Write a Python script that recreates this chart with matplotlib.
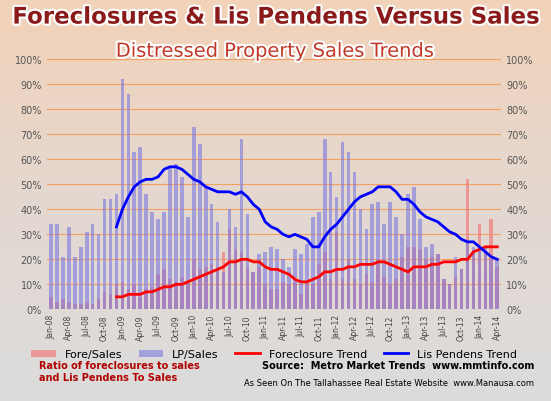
import matplotlib
matplotlib.use("Agg")
import matplotlib.pyplot as plt
import matplotlib.patheffects as pe
from matplotlib.colors import LinearSegmentedColormap
import numpy as np

months = ["Jan","Feb","Mar","Apr","May","Jun","Jul","Aug","Sep","Oct","Nov","Dec"]
labels = [f"{m}-{y:02d}" for y in range(8, 15) for m in months][:76]

lp_sales = [34,34,21,33,21,25,31,34,30,44,44,46,
            92,86,63,65,46,39,36,39,57,58,53,37,
            73,66,49,42,35,15,40,33,68,38,15,22,
            23,25,24,20,17,24,22,26,37,39,68,55,
            45,67,63,55,40,32,42,43,34,43,37,30,
            46,49,36,25,26,22,12,10,21,16,27,25,
            24,25,20,20]
fore_sales = [5,3,4,3,2,2,3,2,4,7,6,10,
              11,8,10,5,8,9,14,16,12,11,13,11,
              20,16,17,18,17,23,32,24,23,17,15,17,
              10,8,8,11,10,11,6,11,10,18,23,12,
              31,12,20,12,10,14,11,20,13,10,12,21,
              25,25,24,20,21,22,12,10,13,16,52,22,
              34,23,36,17]
lp_trend = [33,
            40,45,49,51,52,52,53,56,57,57,56,54,
            52,51,49,48,47,47,47,46,47,45,42,40,
            35,33,32,30,29,30,29,28,25,25,29,32,
            34,37,40,43,45,46,47,49,49,49,47,44,
            44,42,39,37,36,35,33,31,30,28,27,27,
            25,23,21,20]
fc_trend = [5,
            5,6,6,6,7,7,8,9,9,10,10,11,
            12,13,14,15,16,17,19,19,20,20,19,19,
            17,16,16,15,14,12,11,11,12,13,15,15,
            16,16,17,17,18,18,18,19,19,18,17,16,
            15,17,17,17,18,18,19,19,19,20,20,23,
            24,25,25,25]

fig = plt.figure(figsize=(5.51, 4.02), dpi=100)
bg = fig.add_axes([0, 0, 1, 1], zorder=-10)
grad = np.linspace(0, 1, 200)[:, None] * np.ones((1, 10))
cm = LinearSegmentedColormap.from_list("f", ["#f3d2b8", "#e4d8d0", "#dcdcdc"])
bg.imshow(grad, aspect="auto", cmap=cm, extent=[0, 1, 0, 1])
bg.axis("off")

ax = fig.add_axes([0.085, 0.228, 0.825, 0.622])
ax.patch.set_alpha(0)
x = np.arange(76)
h1 = ax.bar(x, fore_sales, width=0.62, color="#f08080", alpha=0.75, label="Fore/Sales", zorder=2)
h2 = ax.bar(x, lp_sales, width=0.62, color="#7b78e0", alpha=0.6, label="LP/Sales", zorder=2)
xt = np.arange(11, 76)
h3, = ax.plot(xt, fc_trend, color="red", lw=2, label="Foreclosure Trend", zorder=4)
h4, = ax.plot(xt, lp_trend, color="blue", lw=2, label="Lis Pendens Trend", zorder=4)
ax.set_ylim(0, 100)
ax.set_xlim(-0.7, 75.7)
yt = np.arange(0, 101, 10)
ax.set_yticks(yt)
ax.set_yticklabels([f"{v}%" for v in yt], fontsize=7, color="#555")
ax.yaxis.grid(True, color="#f5a060", lw=0.8, zorder=0)
ax.set_axisbelow(True)
ax.set_xticks(x[::3])
ax.set_xticklabels(labels[::3], rotation=90, fontsize=5.5, color="#444")
ax.tick_params(length=0)
for s in ax.spines.values():
    s.set_visible(False)
ax2 = ax.twinx()
ax2.set_ylim(0, 100)
ax2.set_yticks(yt)
ax2.set_yticklabels([f"{v}%" for v in yt], fontsize=7, color="#555")
ax2.tick_params(length=0)
for s in ax2.spines.values():
    s.set_visible(False)

fig.text(0.5, 0.955, "Foreclosures & Lis Pendens Versus Sales", ha="center", va="center",
         fontsize=16.5, fontweight="bold", color="#8b1a1a",
         path_effects=[pe.withStroke(linewidth=3, foreground="white")])
fig.text(0.5, 0.87, "Distressed Property Sales Trends", ha="center", va="center",
         fontsize=14, color="#c0392b",
         path_effects=[pe.withStroke(linewidth=3, foreground="white")])

ax.legend([h1, h2, h3, h4], ["Fore/Sales", "LP/Sales", "Foreclosure Trend", "Lis Pendens Trend"],
          loc="upper center", bbox_to_anchor=(0.5, -0.12), ncol=4, frameon=False,
          fontsize=8, handlelength=2.2, columnspacing=1.5)

fig.text(0.07, 0.075, "Ratio of foreclosures to sales\nand Lis Pendens To Sales", fontsize=7,
         color="#b00000", fontweight="bold", va="center", ha="left")
fig.text(0.97, 0.09, "Source:  Metro Market Trends  www.mmtinfo.com", fontsize=7,
         fontweight="bold", ha="right", va="center")
fig.text(0.97, 0.045, "As Seen On The Tallahassee Real Estate Website  www.Manausa.com", fontsize=6,
         ha="right", va="center")
fig.savefig("out.png", dpi=100)
